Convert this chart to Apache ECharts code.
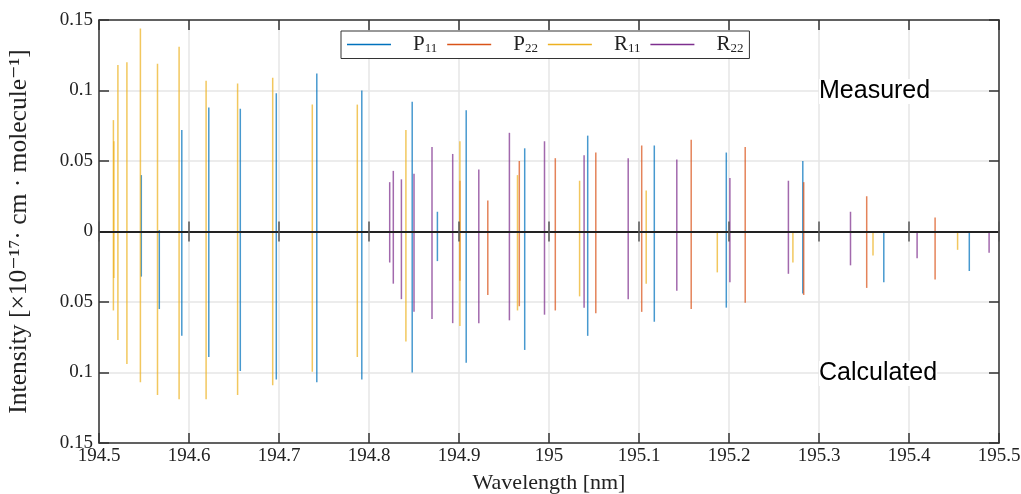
<!DOCTYPE html>
<html>
<head>
<meta charset="utf-8">
<script src="https://cdn.jsdelivr.net/npm/echarts@6/dist/echarts.min.js"></script>
<style>
  html, body { margin: 0; padding: 0; background: #fff; }
  #chart { width: 1021px; height: 494px; }
</style>
</head>
<body>
<div id="chart"></div>
<script>
// Line positions (nm) with measured (upward) and calculated (downward) intensities
const p11Wavelength  = [194.547, 194.567, 194.592, 194.622, 194.657, 194.697, 194.742, 194.792, 194.848, 194.876, 194.908, 194.973, 195.043, 195.117, 195.197, 195.282, 195.372, 195.467];
const p11Measured    = [0.040, 0.001, 0.072, 0.088, 0.087, 0.098, 0.112, 0.100, 0.092, 0.014, 0.086, 0.059, 0.068, 0.061, 0.056, 0.050, 0.000, 0.000];
const p11Calculated  = [0.032, 0.055, 0.074, 0.089, 0.099, 0.105, 0.107, 0.105, 0.100, 0.021, 0.093, 0.084, 0.074, 0.064, 0.054, 0.044, 0.036, 0.028];

const p22Wavelength  = [194.901, 194.932, 194.967, 195.007, 195.052, 195.103, 195.158, 195.218, 195.283, 195.353, 195.429];
const p22Measured    = [0.036, 0.022, 0.050, 0.052, 0.056, 0.061, 0.065, 0.060, 0.035, 0.025, 0.010];
const p22Calculated  = [0.035, 0.045, 0.053, 0.056, 0.058, 0.057, 0.055, 0.0505, 0.045, 0.040, 0.034];

const r11Wavelength  = [194.516, 194.5165, 194.521, 194.531, 194.546, 194.565, 194.589, 194.619, 194.654, 194.693, 194.737, 194.787, 194.841, 194.901, 194.965, 195.034, 195.108, 195.187, 195.271, 195.360, 195.454];
const r11Measured    = [0.079, 0.064, 0.118, 0.120, 0.144, 0.119, 0.131, 0.107, 0.105, 0.109, 0.090, 0.090, 0.072, 0.064, 0.040, 0.036, 0.029, 0.000, 0.000, 0.000, 0.000];
const r11Calculated  = [0.056, 0.033, 0.077, 0.094, 0.107, 0.116, 0.119, 0.119, 0.116, 0.109, 0.0995, 0.089, 0.078, 0.067, 0.056, 0.046, 0.037, 0.029, 0.022, 0.017, 0.013];

const r22Wavelength  = [194.823, 194.827, 194.836, 194.850, 194.870, 194.893, 194.922, 194.956, 194.995, 195.039, 195.088, 195.142, 195.201, 195.266, 195.335, 195.409, 195.489];
const r22Measured    = [0.035, 0.043, 0.037, 0.041, 0.060, 0.055, 0.044, 0.070, 0.064, 0.054, 0.052, 0.051, 0.038, 0.036, 0.014, 0.000, 0.000];
const r22Calculated  = [0.022, 0.037, 0.048, 0.057, 0.062, 0.065, 0.065, 0.063, 0.059, 0.054, 0.048, 0.042, 0.036, 0.030, 0.024, 0.019, 0.015];

// Axis ticks
const wavelengthTicks = [194.5, 194.6, 194.7, 194.8, 194.9, 195.0, 195.1, 195.2, 195.3, 195.4, 195.5];

const seriesNames = ['P11', 'P22', 'R11', 'R22'];
const seriesColors = ['#0072BD', '#D95319', '#EDB120', '#7E2F8E'];

const zip = (w, m, c) => w.map((x, i) => [x, m[i], c[i]]);
const seriesData = [
  zip(p11Wavelength, p11Measured, p11Calculated),
  zip(p22Wavelength, p22Measured, p22Calculated),
  zip(r11Wavelength, r11Measured, r11Calculated),
  zip(r22Wavelength, r22Measured, r22Calculated)
];

const SERIF = "'Liberation Serif', 'DejaVu Serif', serif";
const SANS = "'Liberation Sans', Arial, sans-serif";
const AXIS_COLOR = '#333';
const GRID_COLOR = '#e6e6e6';

// a stem from +measured down to -calculated at one wavelength
function stem(params, api) {
  const x = api.value(0);
  const top = api.coord([x, api.value(1)]);
  const bottom = api.coord([x, -api.value(2)]);
  return {
    type: 'line',
    shape: { x1: top[0], y1: top[1], x2: bottom[0], y2: bottom[1] },
    style: { stroke: api.visual('color'), lineWidth: 1.5, opacity: 0.72 }
  };
}

// short ticks crossing the zero line
function zeroTick(params, api) {
  const p = api.coord([api.value(0), 0]);
  return {
    type: 'line',
    shape: { x1: p[0], y1: p[1] - 10, x2: p[0], y2: p[1] + 10 },
    style: { stroke: '#555', lineWidth: 1.5 }
  };
}

const subName = (n) => '{b|' + n[0] + '}{s|' + n.slice(1) + '}';

const series = seriesNames.map((name, i) => ({
  name: name,
  type: 'custom',
  renderItem: stem,
  itemStyle: { color: seriesColors[i] },
  encode: { x: 0, y: [1, 2] },
  data: seriesData[i],
  z: 2,
  silent: true
}));

series.push({
  type: 'custom',
  renderItem: zeroTick,
  data: wavelengthTicks.map(v => [v]),
  encode: { x: 0 },
  z: 5,
  silent: true,
  markLine: {
    silent: true,
    symbol: 'none',
    label: { show: false },
    lineStyle: { color: '#222', width: 2, type: 'solid' },
    data: [{ yAxis: 0 }]
  }
});

const chart = echarts.init(document.getElementById('chart'), null, { renderer: 'canvas' });
chart.setOption({
  animation: false,
  backgroundColor: '#fff',
  grid: { left: 99, right: 22, top: 20, bottom: 51, containLabel: false, outerBoundsMode: 'none' },
  legend: {
    data: seriesNames.map(n => ({ name: n, icon: 'rect' })),
    left: 341,
    top: 31,
    itemWidth: 44,
    itemHeight: 1.5,
    itemGap: 10,
    padding: [3, 6, 3, 6],
    borderColor: '#333',
    borderWidth: 1,
    backgroundColor: '#fff',
    formatter: subName,
    textStyle: {
      padding: [0, 0, 0, 17],
      rich: {
        b: { fontFamily: SERIF, fontSize: 21, color: '#222' },
        s: { fontFamily: SERIF, fontSize: 13, color: '#222', padding: [9, 0, 0, 0] }
      }
    }
  },
  xAxis: [
    {
      type: 'value', min: 194.5, max: 195.5, interval: 0.1,
      name: 'Wavelength [nm]', nameLocation: 'middle', nameGap: 29,
      nameTextStyle: { fontFamily: SERIF, fontSize: 22, color: '#222' },
      axisLine: { onZero: false, lineStyle: { color: AXIS_COLOR, width: 1.5 } },
      axisTick: { inside: true, length: 10, lineStyle: { color: AXIS_COLOR, width: 1.5 } },
      axisLabel: { fontFamily: SERIF, fontSize: 19, color: '#222', margin: 4,
        formatter: v => String(+v.toFixed(1)) },
      splitLine: { show: true, lineStyle: { color: GRID_COLOR, width: 1.5 } }
    },
    {
      type: 'value', min: 194.5, max: 195.5, interval: 0.1, position: 'top',
      axisLine: { onZero: false, lineStyle: { color: AXIS_COLOR, width: 1.5 } },
      axisTick: { inside: true, length: 10, lineStyle: { color: AXIS_COLOR, width: 1.5 } },
      axisLabel: { show: false },
      splitLine: { show: false }
    }
  ],
  yAxis: [
    {
      type: 'value', min: -0.15, max: 0.15, interval: 0.05,
      name: 'Intensity [×10⁻¹⁷· cm · molecule⁻¹]', nameLocation: 'middle', nameGap: 67,
      nameRotate: 90,
      nameTextStyle: { fontFamily: SERIF, fontSize: 25.5, color: '#222' },
      axisLine: { onZero: false, lineStyle: { color: AXIS_COLOR, width: 1.5 } },
      axisTick: { inside: true, length: 10, lineStyle: { color: AXIS_COLOR, width: 1.5 } },
      axisLabel: { fontFamily: SERIF, fontSize: 19, color: '#222', margin: 6,
        formatter: v => String(+Math.abs(v).toFixed(2)) },
      splitLine: { show: true, lineStyle: { color: GRID_COLOR, width: 1.5 } }
    },
    {
      type: 'value', min: -0.15, max: 0.15, interval: 0.05, position: 'right',
      axisLine: { onZero: false, lineStyle: { color: AXIS_COLOR, width: 1.5 } },
      axisTick: { inside: true, length: 10, lineStyle: { color: AXIS_COLOR, width: 1.5 } },
      axisLabel: { show: false },
      splitLine: { show: false }
    }
  ],
  graphic: [
    { type: 'text', left: 819, top: 79, z: 10,
      style: { text: 'Measured', fontFamily: SANS, fontSize: 25, fill: '#000', backgroundColor: '#fff' } },
    { type: 'text', left: 819, top: 361, z: 10,
      style: { text: 'Calculated', fontFamily: SANS, fontSize: 25, fill: '#000', backgroundColor: '#fff' } }
  ],
  series: series
});
</script>
</body>
</html>
